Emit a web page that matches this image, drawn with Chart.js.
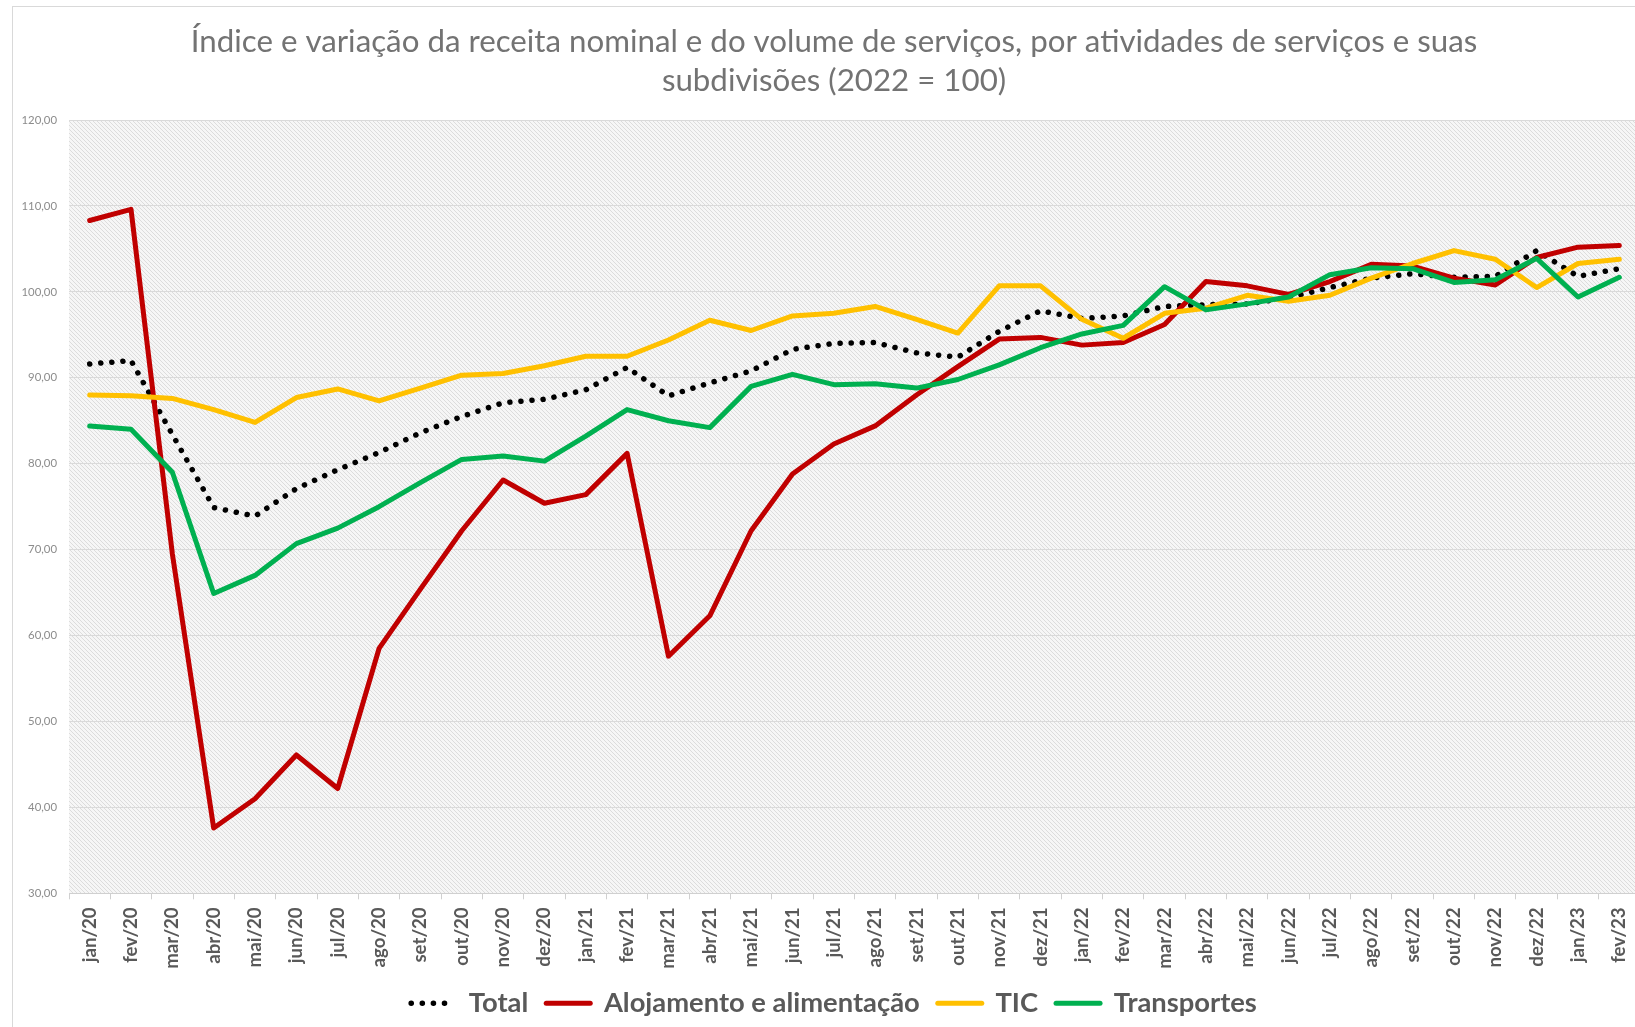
<!DOCTYPE html>
<html lang="pt">
<head>
<meta charset="utf-8">
<title>Índice e variação da receita nominal e do volume de serviços</title>
<script src="https://cdn.jsdelivr.net/npm/chart.js@4"></script>
<style>
  body { margin: 0; overflow: hidden; background: #fff; }
  #frame { position: absolute; left: 12px; top: 6px; width: 2000px; height: 2000px;
           border-left: 1px solid #d9d9d9; border-top: 1px solid #d9d9d9; }
  #wrap { position: absolute; left: 0; top: 0; }
</style>
</head>
<body>
<div id="frame"></div>
<div id="wrap"><canvas id="chart" width="1668" height="1027"></canvas></div>
<script>
const meses = ['jan/20','fev/20','mar/20','abr/20','mai/20','jun/20','jul/20','ago/20','set/20','out/20','nov/20','dez/20',
  'jan/21','fev/21','mar/21','abr/21','mai/21','jun/21','jul/21','ago/21','set/21','out/21','nov/21','dez/21',
  'jan/22','fev/22','mar/22','abr/22','mai/22','jun/22','jul/22','ago/22','set/22','out/22','nov/22','dez/22',
  'jan/23','fev/23'];

const total = [91.6, 92.0, 83.4, 74.9, 73.9, 77.1, 79.3, 81.3, 83.6, 85.5, 87.1, 87.5,
  88.6, 91.2, 87.9, 89.4, 90.8, 93.3, 94.0, 94.1, 92.9, 92.4, 95.4, 97.8,
  96.9, 97.2, 98.3, 98.5, 98.6, 99.3, 100.5, 101.6, 102.1, 101.7, 101.8, 104.8,
  101.8, 102.7];

const alojamento = [108.3, 109.6, 69.5, 37.6, 41.0, 46.1, 42.2, 58.5, 65.4, 72.2, 78.1, 75.4,
  76.4, 81.2, 57.6, 62.3, 72.2, 78.8, 82.3, 84.4, 88.0, 91.3, 94.5, 94.7,
  93.8, 94.1, 96.2, 101.2, 100.7, 99.7, 101.2, 103.2, 103.0, 101.6, 100.8, 104.0,
  105.2, 105.4];

const tic = [88.0, 87.9, 87.6, 86.3, 84.8, 87.7, 88.7, 87.3, 88.8, 90.3, 90.5, 91.4,
  92.5, 92.5, 94.4, 96.7, 95.5, 97.2, 97.5, 98.3, 96.8, 95.2, 100.7, 100.7,
  96.8, 94.6, 97.5, 98.1, 99.6, 98.9, 99.6, 101.6, 103.3, 104.8, 103.8, 100.5,
  103.3, 103.8];

const transportes = [84.4, 84.0, 79.0, 64.9, 67.0, 70.7, 72.5, 75.0, 77.8, 80.5, 80.9, 80.3,
  83.2, 86.3, 85.0, 84.2, 89.0, 90.4, 89.2, 89.3, 88.8, 89.8, 91.5, 93.5,
  95.1, 96.1, 100.6, 97.9, 98.6, 99.4, 102.0, 102.8, 102.7, 101.1, 101.4, 103.9,
  99.4, 101.7];

const titulo = ['Índice e variação da receita nominal e do volume de serviços, por atividades de serviços e suas',
  'subdivisões (2022 = 100)'];

const FONT = 'Lato';

// font size so that a text gets the width it has in the picture
const measureCtx = document.createElement('canvas').getContext('2d');
function fitSize(text, weight, width) {
  measureCtx.font = weight + ' 100px ' + FONT;
  return 100 * width / measureCtx.measureText(text).width;
}
const titleSize = fitSize(titulo[0], 'normal', 1287);
const legendSize = fitSize('Alojamento e alimentação', 'bold', 316);
const xSize = fitSize('jan/20', 'bold', 55);
const ySize = fitSize('30,00', 'normal', 29);

// vertical layout of the bottom part (plot bottom at 894, legend text around 1001)
const legendPad = 18;
const legendTop = 1004 - legendPad - legendSize / 2;
const xAxisHeight = legendTop - 894;
const bottomPad = Math.max(0, 1027 - (legendTop + legendSize + legendPad + 10));

// light downward diagonal hatch for the plot area
const tile = document.createElement('canvas');
tile.width = 4; tile.height = 4;
const tg = tile.getContext('2d');
tg.fillStyle = '#f6f6f6';
tg.fillRect(0, 0, 4, 4);
tg.strokeStyle = '#dcdcdc';
tg.lineWidth = 1;
tg.beginPath();
tg.moveTo(-1, -1); tg.lineTo(5, 5);
tg.moveTo(-1, 3); tg.lineTo(1, 5);
tg.moveTo(3, -1); tg.lineTo(5, 1);
tg.stroke();

const hatchPlugin = {
  id: 'hatch',
  beforeDraw(chart) {
    const {ctx, chartArea: a} = chart;
    ctx.save();
    ctx.fillStyle = ctx.createPattern(tile, 'repeat');
    ctx.fillRect(a.left, a.top, a.right - a.left, a.bottom - a.top);
    ctx.restore();
  }
};

const defaultLabels = Chart.defaults.plugins.legend.labels.generateLabels;

new Chart(document.getElementById('chart'), {
  type: 'line',
  data: {
    labels: meses,
    datasets: [
      { label: 'Total', data: total, borderColor: '#000000', backgroundColor: '#000000',
        borderWidth: 5.5, borderDash: [0.1, 11], borderCapStyle: 'round', order: 4 },
      { label: 'Alojamento e alimentação', data: alojamento, borderColor: '#C00000', backgroundColor: '#C00000',
        borderWidth: 5, borderCapStyle: 'round', order: 3 },
      { label: 'TIC', data: tic, borderColor: '#FFC000', backgroundColor: '#FFC000',
        borderWidth: 5, borderCapStyle: 'round', order: 2 },
      { label: 'Transportes', data: transportes, borderColor: '#00B050', backgroundColor: '#00B050',
        borderWidth: 5, borderCapStyle: 'round', order: 1 }
    ]
  },
  options: {
    responsive: false,
    animation: false,
    events: [],
    elements: {
      point: { radius: 0 },
      line: { tension: 0, borderJoinStyle: 'round' }
    },
    layout: { padding: { left: 12, right: 12, top: 0, bottom: bottomPad } },
    plugins: {
      tooltip: { enabled: false },
      title: {
        display: true,
        text: titulo,
        color: '#737373',
        font: { family: FONT, size: titleSize, weight: 'normal', lineHeight: '39px' },
        padding: { top: 22.5, bottom: 19.5 }
      },
      legend: {
        position: 'bottom',
        labels: {
          usePointStyle: true,
          pointStyle: 'line',
          pointStyleWidth: 44,
          padding: legendPad,
          color: '#595959',
          font: { family: FONT, size: legendSize, weight: 'bold' },
          sort: (a, b) => a.datasetIndex - b.datasetIndex,
          generateLabels: (chart) => defaultLabels(chart).map((item) => {
            const ds = chart.data.datasets[item.datasetIndex];
            item.lineDash = ds.borderDash || [];
            item.lineCap = 'round';
            item.lineWidth = ds.borderWidth;
            return item;
          })
        }
      }
    },
    scales: {
      x: {
        offset: true,
        afterFit: (scale) => { scale.height = xAxisHeight; },
        grid: { display: true, offset: true, drawOnChartArea: false, drawTicks: true, tickLength: 6, color: '#d0d0d0' },
        border: { display: true, color: '#d0d0d0' },
        ticks: {
          autoSkip: false, minRotation: 90, maxRotation: 90, padding: 8,
          color: '#595959',
          font: { family: FONT, size: xSize, weight: 'bold' }
        }
      },
      y: {
        min: 30,
        max: 120,
        afterFit: (scale) => { scale.width = 57; },
        grid: { color: '#dadada', drawTicks: false },
        border: { display: false },
        ticks: {
          stepSize: 10, padding: 12,
          color: '#8c8c8c',
          font: { family: FONT, size: ySize },
          callback: (v) => v.toFixed(2).replace('.', ',')
        }
      },
      // empty right-hand box: keeps the plot edge at 1640 while title and legend stay centred
      yRight: {
        position: 'right',
        display: true,
        min: 30,
        max: 120,
        afterFit: (scale) => { scale.width = 16; },
        grid: { display: false },
        border: { display: false },
        ticks: { display: false }
      }
    }
  },
  plugins: [hatchPlugin]
});
</script>
</body>
</html>
